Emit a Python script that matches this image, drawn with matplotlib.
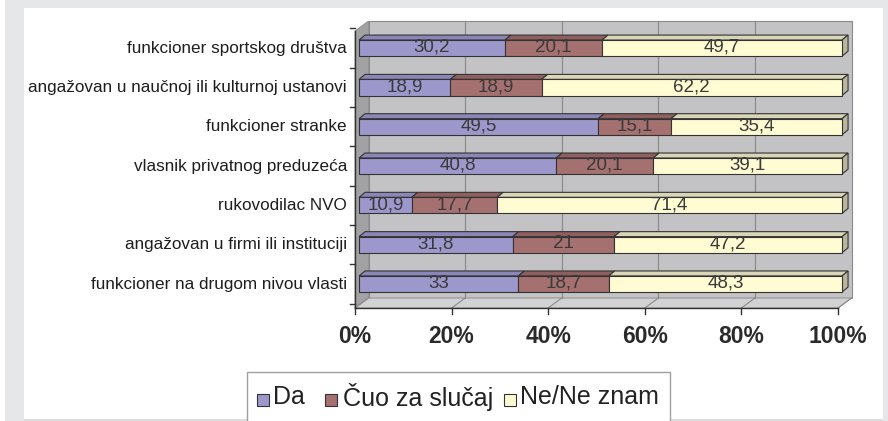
import matplotlib
matplotlib.use("Agg")
import matplotlib.pyplot as plt
from matplotlib.patches import Polygon, Rectangle

# data, top row first
categories = [
    "funkcioner sportskog društva",
    "angažovan u naučnoj ili kulturnoj ustanovi",
    "funkcioner stranke",
    "vlasnik privatnog preduzeća",
    "rukovodilac NVO",
    "angažovan u firmi ili instituciji",
    "funkcioner na drugom nivou vlasti",
]
da = [30.2, 18.9, 49.5, 40.8, 10.9, 31.8, 33]
cuo = [20.1, 18.9, 15.1, 20.1, 17.7, 21, 18.7]
ne = [49.7, 62.2, 35.4, 39.1, 71.4, 47.2, 48.3]
series_names = ["Da", "Čuo za slučaj", "Ne/Ne znam"]
xticks = [0, 20, 40, 60, 80, 100]

front_cols = ["#9c98cc", "#a57070", "#fffbd3"]
top_cols = ["#8a86b8", "#8f5e5e", "#d9d6b8"]
side_cols = ["#7a76a6", "#7e5050", "#b9b69c"]

W, H = 888, 421
fig = plt.figure(figsize=(W / 100, H / 100), dpi=100)
fig.patch.set_facecolor("white")

def px(x0, y0, w, h, **kw):
    # rectangle in pixel coords (y from top)
    r = Rectangle((x0 / W, 1 - (y0 + h) / H), w / W, h / H,
                  transform=fig.transFigure, **kw)
    fig.patches.append(r)

frame = "#e6e7e9"
px(5, 0, 19, H, facecolor=frame, edgecolor="none")
px(5, 0, W - 5, 8, facecolor=frame, edgecolor="none")
px(883, 0, 5, H, facecolor=frame, edgecolor="none")
px(24, 419, 859, 2, facecolor="#dcdcdc", edgecolor="none")

# axes geometry in pixels
x0p, x1p = 355, 838
ytop, yfloor = 21, 308
y_lo, y_hi = -0.61, 6.69
ax = fig.add_axes([x0p / W, 1 - yfloor / H, (x1p - x0p) / W, (yfloor - ytop) / H])
ax.set_xlim(0, 100)
ax.set_ylim(y_lo, y_hi)
ax.axis("off")

dx, dy = 2.8, 0.254       # wall depth
bx = 0.83                 # bar front offset
bdx, bdy = 1.25, 0.127    # bar depth
hh = 0.205                # half bar height

# back wall
ax.add_patch(Rectangle((dx, y_lo + dy), 100, y_hi - y_lo - dy, facecolor="#c3c3c5",
                       edgecolor="#8a8a8a", lw=0.8, clip_on=False, zorder=1))
for t in xticks[1:-1]:
    ax.plot([t + dx, t + dx], [y_lo + dy, y_hi], color="#8c8c8c", lw=0.9,
            clip_on=False, zorder=1.5)
# left wall
ax.add_patch(Polygon([(0, y_lo), (dx, y_lo + dy), (dx, y_hi), (0, y_hi - dy)],
                     closed=True, facecolor="#a2a2a4", edgecolor="#8a8a8a", lw=0.6,
                     clip_on=False, zorder=1))
# floor
ax.add_patch(Polygon([(0, y_lo), (100, y_lo), (100 + dx, y_lo + dy), (dx, y_lo + dy)],
                     closed=True, facecolor="#d2d2d4", edgecolor="#8a8a8a", lw=0.6,
                     clip_on=False, zorder=1))
for t in xticks:
    ax.plot([t, t + dx], [y_lo, y_lo + dy], color="#8a8a8a", lw=0.8,
            clip_on=False, zorder=1.5)

# axis lines and ticks
ax.plot([0, 100], [y_lo, y_lo], color="#333333", lw=1.0, clip_on=False, zorder=5)
ax.plot([0, 0], [y_lo, y_hi - dy], color="#333333", lw=1.0, clip_on=False, zorder=5)
tick_dy = 6 / 39.3
for t in xticks:
    ax.plot([t, t], [y_lo, y_lo - tick_dy], color="#333333", lw=1.0,
            clip_on=False, zorder=5)
    ax.text(t, y_lo - 28 / 39.3, f"{t}%", ha="center", va="center",
            fontsize=16.5, fontweight="bold", family="Liberation Sans",
            color="#2a2a2a")
for k in range(-1, len(categories)):
    yb = k + 0.5
    if y_lo < yb < y_hi:
        ax.plot([-5 / 4.83, 0], [yb, yb], color="#333333", lw=1.0,
                clip_on=False, zorder=5)

n = len(categories)
for i, cat in enumerate(categories):
    y = n - 1 - i
    ax.text(-8 / 4.83, y, cat, ha="right", va="center", fontsize=12.3,
            family="Liberation Sans", color="#1e1e1e")
    left = 0
    vals = [da[i], cuo[i], ne[i]]
    for j, v in enumerate(vals):
        xa = bx + left
        xb = bx + left + v
        # top face
        ax.add_patch(Polygon([(xa, y + hh), (xb, y + hh), (xb + bdx, y + hh + bdy),
                              (xa + bdx, y + hh + bdy)], closed=True,
                             facecolor=top_cols[j], edgecolor="#333333", lw=0.8,
                             clip_on=False, zorder=3))
        # front face
        ax.add_patch(Rectangle((xa, y - hh), v, 2 * hh, facecolor=front_cols[j],
                               edgecolor="#333333", lw=0.8, clip_on=False, zorder=4))
        lab = f"{v:g}".replace(".", ",")
        ax.text(xa + v / 2, y + 0.02, lab, ha="center", va="center", fontsize=13.5,
                family="Liberation Sans", color="#3a3a3a", zorder=6)
        left += v
    # right side face of last segment
    xe = bx + left
    ax.add_patch(Polygon([(xe, y - hh), (xe + bdx, y - hh + bdy), (xe + bdx, y + hh + bdy),
                          (xe, y + hh)], closed=True, facecolor=side_cols[2],
                         edgecolor="#333333", lw=0.8, clip_on=False, zorder=3))

# legend (drawn by hand, box runs off the bottom edge)
px(247, 372, 423, 60, facecolor="white", edgecolor="#a0a0a0", lw=1.0)
sq_x = [257, 325, 504]
txt_x = [273, 343, 520]
for j, name in enumerate(series_names):
    px(sq_x[j], 394, 12, 12, facecolor=front_cols[j], edgecolor="#333333", lw=0.8)
    fig.text(txt_x[j] / W, 1 - 397 / H, name, ha="left", va="center",
             fontsize=18, family="Liberation Sans", color="#222222")

fig.savefig("out.png", dpi=100)
